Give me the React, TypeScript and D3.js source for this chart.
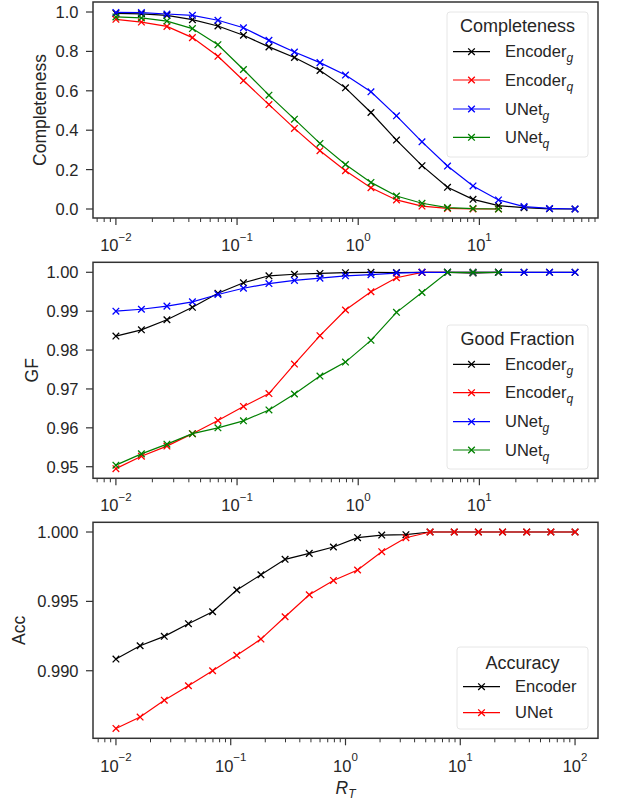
import React from "react";
import * as d3 from "d3";

const xs = [0.01, 0.01624, 0.02637, 0.04281, 0.06952, 0.1129, 0.1833, 0.2976, 0.4833, 0.7848, 1.274, 2.069, 3.36, 5.456, 8.859, 14.38, 23.36, 37.93, 61.58, 100];

const compEncG = [0.993, 0.991, 0.983, 0.961, 0.929, 0.882, 0.823, 0.769, 0.703, 0.615, 0.49, 0.35, 0.22, 0.11, 0.049, 0.017, 0.007, 0.001, 0.0];
const compEncQ = [0.963, 0.949, 0.927, 0.87, 0.775, 0.652, 0.53, 0.409, 0.296, 0.194, 0.108, 0.046, 0.015, 0.003, 0.0, 0.0];
const compUnetG = [0.998, 0.997, 0.99, 0.983, 0.958, 0.92, 0.856, 0.797, 0.743, 0.68, 0.595, 0.473, 0.341, 0.218, 0.117, 0.046, 0.012, 0.003, 0.0];
const compUnetQ = [0.975, 0.97, 0.954, 0.916, 0.834, 0.708, 0.578, 0.456, 0.333, 0.226, 0.135, 0.066, 0.029, 0.007, 0.002, 0.0];

const gfEncG = [0.9836, 0.9852, 0.9878, 0.991, 0.9946, 0.9973, 0.9991, 0.9995, 0.9997, 0.9999, 1.0, 0.99995, 1.0, 1.0, 0.9998, 1.0, 1.0, 1.0, 1.0];
const gfEncQ = [0.9495, 0.9527, 0.9553, 0.9585, 0.9619, 0.9655, 0.9688, 0.9764, 0.9837, 0.9903, 0.995, 0.9986, 1.0, 1.0, 1.0, 1.0];
const gfUnetG = [0.99, 0.9905, 0.9913, 0.9924, 0.9943, 0.9959, 0.9971, 0.9979, 0.9985, 0.9991, 0.9994, 0.9998, 1.0, 1.0, 1.0, 1.0, 1.0, 1.0, 1.0];
const gfUnetQ = [0.9504, 0.9533, 0.9558, 0.9585, 0.96, 0.9618, 0.9646, 0.9687, 0.9733, 0.9769, 0.9825, 0.9897, 0.9948, 1.0, 1.0, 1.0];

const accEnc = [0.99084, 0.9918, 0.99248, 0.99339, 0.99425, 0.99582, 0.99692, 0.99803, 0.99846, 0.99892, 0.99959, 0.99978, 0.99981, 1.0, 1.0, 1.0, 1.0, 1.0, 1.0, 1.0];
const accUnet = [0.98584, 0.98666, 0.98788, 0.98892, 0.99, 0.99111, 0.99228, 0.99389, 0.99548, 0.99651, 0.99726, 0.99858, 0.99959, 1.0, 1.0, 1.0, 1.0, 1.0, 1.0, 1.0];

const compTicks = [0.0, 0.2, 0.4, 0.6, 0.8, 1.0];
const gfTicks = [0.95, 0.96, 0.97, 0.98, 0.99, 1.0];
const accTicks = [0.99, 0.995, 1.0];

const FONT = "'Liberation Sans', Arial, sans-serif";
const TXT = "#262626";
const AX = "#333333";

type Series = { name: string; sub?: string; color: string; values: number[] };

function Marker({ x, y, color }: { x: number; y: number; color: string }) {
  const s = 3.3;
  return (
    <path d={`M${x - s},${y - s}L${x + s},${y + s}M${x - s},${y + s}L${x + s},${y - s}`} stroke={color} strokeWidth={1.3} fill="none" />
  );
}

function Panel(props: {
  top: number; bottom: number; left: number; right: number;
  xDom: [number, number]; yDom: [number, number]; yTicks: number[]; yFmt: (v: number) => string;
  series: Series[]; ylabel: string; ylabelX: number; legendTitle: string;
  legend: { x0: number; x1: number; y0: number; y1: number; titleY: number; rows: number[]; lineX0: number; lineX1: number; textX: number };
  xLabelBase: number; expBase: number;
}) {
  const { top, bottom, left, right, xDom, yDom, series, legend } = props;
  const x = d3.scaleLog().domain(xDom).range([left, right]);
  const y = d3.scaleLinear().domain(yDom).range([bottom, top]);
  const line = d3.line<[number, number]>().x((d) => x(d[0])).y((d) => y(d[1]));
  const lo = Math.floor(Math.log10(xDom[0]));
  const hi = Math.ceil(Math.log10(xDom[1]));
  const majors: number[] = [];
  const minors: number[] = [];
  for (let e = lo; e <= hi; e++) {
    const b = Math.pow(10, e);
    if (b >= xDom[0] && b <= xDom[1]) majors.push(e);
    for (let m = 2; m <= 9; m++) {
      const v = m * b;
      if (v >= xDom[0] && v <= xDom[1]) minors.push(v);
    }
  }
  return (
    <g>
      {series.map((s) => {
        const pts: [number, number][] = s.values.map((v, i) => [xs[i], v]);
        return (
          <g key={s.name + (s.sub || "")}>
            <path d={line(pts) || ""} fill="none" stroke={s.color} strokeWidth={1.2} />
            {pts.map((p, i) => (
              <Marker key={i} x={x(p[0])} y={y(p[1])} color={s.color} />
            ))}
          </g>
        );
      })}
      <rect x={left} y={top} width={right - left} height={bottom - top} fill="none" stroke={AX} strokeWidth={1.5} />
      {props.yTicks.map((t) => (
        <g key={t}>
          <line x1={left - 7} x2={left} y1={y(t)} y2={y(t)} stroke={AX} strokeWidth={1.2} />
          <text x={left - 14.5} y={y(t)} dy="0.36em" textAnchor="end" fontSize={16.5} fill={TXT} fontFamily={FONT}>
            {props.yFmt(t)}
          </text>
        </g>
      ))}
      {minors.map((v) => (
        <line key={"m" + v} x1={x(v)} x2={x(v)} y1={bottom} y2={bottom + 4} stroke={AX} strokeWidth={1} />
      ))}
      {majors.map((e) => (
        <g key={"M" + e}>
          <line x1={x(Math.pow(10, e))} x2={x(Math.pow(10, e))} y1={bottom} y2={bottom + 7} stroke={AX} strokeWidth={1.2} />
          <text x={x(Math.pow(10, e))} y={props.xLabelBase} textAnchor="middle" fontSize={16.5} fill={TXT} fontFamily={FONT}>
            <tspan>10</tspan>
            <tspan dy={props.expBase - props.xLabelBase} fontSize={11.5}>{e < 0 ? "\u2212" + -e : String(e)}</tspan>
          </text>
        </g>
      ))}
      <text transform={`translate(${props.ylabelX},${(top + bottom) / 2}) rotate(-90)`} textAnchor="middle" dy="0.35em" fontSize={17.5} fill={TXT} fontFamily={FONT}>
        {props.ylabel}
      </text>
      <rect x={legend.x0} y={legend.y0} width={legend.x1 - legend.x0} height={legend.y1 - legend.y0} rx={3} fill="#ffffff" fillOpacity={0.8} stroke="#e6e6e6" strokeWidth={1} />
      <text x={(legend.x0 + legend.x1) / 2} y={legend.titleY} dy="0.35em" textAnchor="middle" fontSize={18} fill={TXT} fontFamily={FONT}>
        {props.legendTitle}
      </text>
      {series.map((s, i) => (
        <g key={"l" + i}>
          <line x1={legend.lineX0} x2={legend.lineX1} y1={legend.rows[i]} y2={legend.rows[i]} stroke={s.color} strokeWidth={1.2} />
          <Marker x={(legend.lineX0 + legend.lineX1) / 2} y={legend.rows[i]} color={s.color} />
          <text x={legend.textX} y={legend.rows[i]} dy="0.35em" fontSize={16.5} fill={TXT} fontFamily={FONT}>
            {s.name}
            {s.sub ? (
              <tspan dy={5} fontSize={12} fontStyle="italic">{s.sub}</tspan>
            ) : null}
          </text>
        </g>
      ))}
    </g>
  );
}

export default function App() {
  const L = 93, R = 598;
  const domTop: [number, number] = [Math.pow(10, -2.189), Math.pow(10, 1.979)];
  const domBot: [number, number] = [Math.pow(10, -2.2), Math.pow(10, 2.2)];
  return (
    <svg width={617} height={802} style={{ position: "absolute", left: 0, top: 0, background: "#fff" }}>
      <rect width={617} height={802} fill="#fff" />
      <Panel
        top={2} bottom={218} left={L} right={R}
        xDom={domTop} yDom={[-0.0457, 1.0508]} yTicks={compTicks} yFmt={(v) => v.toFixed(1)}
        series={[
          { name: "Encoder", sub: "g", color: "#000000", values: compEncG },
          { name: "Encoder", sub: "q", color: "#ff0000", values: compEncQ },
          { name: "UNet", sub: "g", color: "#0000ff", values: compUnetG },
          { name: "UNet", sub: "q", color: "#008000", values: compUnetQ },
        ]}
        ylabel="Completeness" ylabelX={40} legendTitle="Completeness"
        legend={{ x0: 447, x1: 588, y0: 12, y1: 157, titleY: 26, rows: [51.7, 80, 109, 137.3], lineX0: 453, lineX1: 490, textX: 505 }}
        xLabelBase={251} expBase={241}
      />
      <Panel
        top={262.3} bottom={478.3} left={L} right={R}
        xDom={domTop} yDom={[0.94702, 1.00257]} yTicks={gfTicks} yFmt={(v) => v.toFixed(2)}
        series={[
          { name: "Encoder", sub: "g", color: "#000000", values: gfEncG },
          { name: "Encoder", sub: "q", color: "#ff0000", values: gfEncQ },
          { name: "UNet", sub: "g", color: "#0000ff", values: gfUnetG },
          { name: "UNet", sub: "q", color: "#008000", values: gfUnetQ },
        ]}
        ylabel="GF" ylabelX={32} legendTitle="Good Fraction"
        legend={{ x0: 447, x1: 588, y0: 325, y1: 469, titleY: 338.5, rows: [364.3, 392.7, 421.7, 450], lineX0: 453, lineX1: 490, textX: 505 }}
        xLabelBase={511} expBase={501}
      />
      <Panel
        top={522.3} bottom={738.3} left={L} right={R}
        xDom={domBot} yDom={[0.98513, 1.0007]} yTicks={accTicks} yFmt={(v) => v.toFixed(3)}
        series={[
          { name: "Encoder", color: "#000000", values: accEnc },
          { name: "UNet", color: "#ff0000", values: accUnet },
        ]}
        ylabel="Acc" ylabelX={19} legendTitle="Accuracy"
        legend={{ x0: 457, x1: 588, y0: 647, y1: 729, titleY: 662.3, rows: [686.7, 712.7], lineX0: 463, lineX1: 500, textX: 515 }}
        xLabelBase={772} expBase={761}
      />
      <text x={(L + R) / 2} y={794} textAnchor="middle" fontSize={17.5} fill={TXT} fontFamily={FONT} fontStyle="italic">
        R<tspan dy={4} fontSize={12}>T</tspan>
      </text>
    </svg>
  );
}
